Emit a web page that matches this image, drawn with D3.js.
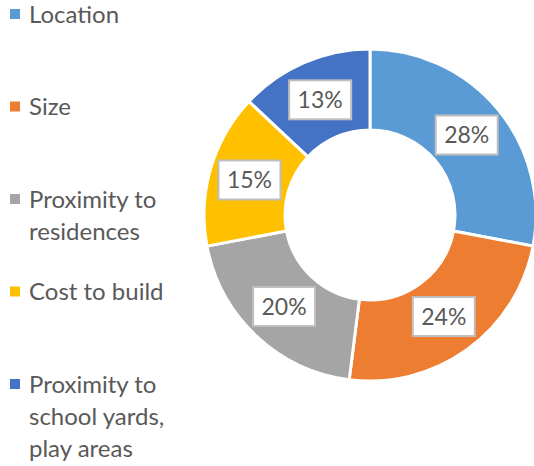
<!DOCTYPE html>
<html>
<head>
<meta charset="utf-8">
<script src="https://d3js.org/d3.v7.min.js"></script>
<style>
    body { margin: 0; background: #fff; }
    text { font-family: Lato, "Open Sans", sans-serif; fill: #595959; }
</style>
</head>
<body>
<script>
    // data
    var categories = ["Location", "Size", "Proximity to residences", "Cost to build", "Proximity to school yards, play areas"];
    var legendLines = [["Location"], ["Size"], ["Proximity to", "residences"], ["Cost to build"], ["Proximity to", "school yards,", "play areas"]];
    var shares = [28, 24, 20, 15, 13];
    var colors = ["#5B9BD5", "#ED7D31", "#A5A5A5", "#FFC000", "#4472C4"];

    var width = 534,
        height = 466;

    var svg = d3.select("body")
      .append("svg")
      .attr("width", width)
      .attr("height", height);

    var cx = 370, cy = 215,
        outerR = 166, innerR = 85;

    var pie = d3.pie().sort(null).value(d => d);
    var arc = d3.arc().innerRadius(innerR).outerRadius(outerR);
    var labelArc = d3.arc().innerRadius((innerR + outerR) / 2).outerRadius((innerR + outerR) / 2);

    var donut = svg.append("g").attr("transform", "translate(" + cx + "," + cy + ")");

    donut.selectAll("path")
      .data(pie(shares))
      .enter()
      .append("path")
      .attr("d", arc)
      .attr("fill", (d, i) => colors[i])
      .attr("stroke", "#fff")
      .attr("stroke-width", 3);

    // data labels in white boxes
    var labels = donut.selectAll("g.lab")
      .data(pie(shares))
      .enter()
      .append("g")
      .attr("class", "lab")
      .attr("transform", d => "translate(" + labelArc.centroid(d) + ")");

    labels.append("rect")
      .attr("x", -31)
      .attr("y", -19.5)
      .attr("width", 62)
      .attr("height", 39)
      .attr("fill", "#fff")
      .attr("stroke", "#BFBFBF")
      .attr("stroke-width", 2);

    labels.append("text")
      .attr("text-anchor", "middle")
      .attr("dy", "0.36em")
      .style("font-size", "23px")
      .text(d => d.data + "%");

    // legend
    var legend = svg.append("g");
    var item = legend.selectAll("g")
      .data(categories)
      .enter()
      .append("g")
      .attr("transform", (d, i) => "translate(10," + (14 + i * 92.5) + ")");

    item.append("rect")
      .attr("x", 0)
      .attr("y", -5)
      .attr("width", 10)
      .attr("height", 10)
      .attr("fill", (d, i) => colors[i]);

    item.append("text")
      .attr("x", 19)
      .style("font-size", "24px")
      .selectAll("tspan")
      .data((d, i) => legendLines[i])
      .enter()
      .append("tspan")
      .attr("x", 19)
      .attr("y", (d, j) => j * 32)
      .attr("dy", "0.36em")
      .text(d => d);
</script>
</body>
</html>
